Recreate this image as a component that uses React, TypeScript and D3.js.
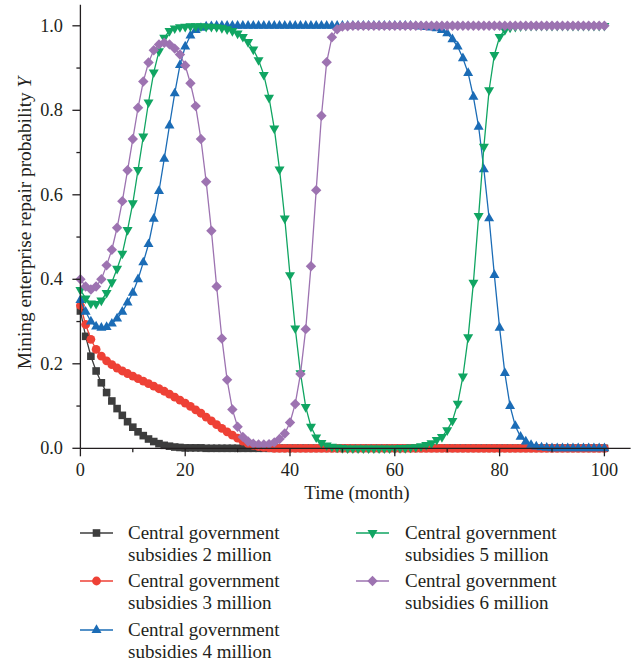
import React from 'react';
import * as d3 from 'd3';

// Time in months (0..100)
const months: number[] = d3.range(0, 101);

// Mining enterprise repair probability Y for each subsidy level
const sub2: number[] = [
  0.325, 0.265, 0.218, 0.183, 0.155, 0.132, 0.112, 0.094, 0.078, 0.063,
  0.050, 0.039, 0.030, 0.022, 0.016, 0.011, 0.007, 0.005, 0.003, 0.002,
  0.001, 0.001, 0.001, 0.001, 0, 0, 0, 0, 0, 0,
  0, 0, 0, 0, 0, 0, 0, 0, 0, 0,
  0, 0, 0, 0, 0, 0, 0, 0, 0, 0,
  0, 0, 0, 0, 0, 0, 0, 0, 0, 0,
  0, 0, 0, 0, 0, 0, 0, 0, 0, 0,
  0, 0, 0, 0, 0, 0, 0, 0, 0, 0,
  0, 0, 0, 0, 0, 0, 0, 0, 0, 0,
  0, 0, 0, 0, 0, 0, 0, 0, 0, 0,
  0,
];

const sub3: number[] = [
  0.338, 0.293, 0.258, 0.234, 0.218, 0.207, 0.198, 0.190, 0.183, 0.177,
  0.171, 0.165, 0.159, 0.153, 0.147, 0.141, 0.135, 0.128, 0.121, 0.114,
  0.107, 0.099, 0.091, 0.083, 0.074, 0.065, 0.056, 0.047, 0.039, 0.031,
  0.024, 0.017, 0.011, 0.007, 0.004, 0.002, 0.001, 0, 0, 0,
  0, 0, 0, 0, 0, 0, 0, 0, 0, 0,
  0, 0, 0, 0, 0, 0, 0, 0, 0, 0,
  0, 0, 0, 0, 0, 0, 0, 0, 0, 0,
  0, 0, 0, 0, 0, 0, 0, 0, 0, 0,
  0, 0, 0, 0, 0, 0, 0, 0, 0, 0,
  0, 0, 0, 0, 0, 0, 0, 0, 0, 0,
  0,
];

const sub4: number[] = [
  0.351, 0.323, 0.300, 0.288, 0.285, 0.287, 0.295, 0.307, 0.323, 0.345,
  0.368, 0.400, 0.440, 0.483, 0.543, 0.609, 0.685, 0.764, 0.840, 0.907,
  0.951, 0.977, 0.990, 0.995, 0.998, 0.999, 1, 1, 1, 1,
  1, 1, 1, 1, 1, 1, 1, 1, 1, 1,
  1, 1, 1, 1, 1, 1, 1, 1, 1, 1,
  1, 1, 1, 1, 1, 1, 1, 1, 1, 1,
  1, 1, 1, 1, 0.999, 0.998, 0.997, 0.996, 0.994, 0.990,
  0.982, 0.968, 0.951, 0.923, 0.888, 0.832, 0.761, 0.660, 0.544, 0.410,
  0.285, 0.178, 0.100, 0.053, 0.027, 0.016, 0.008, 0.004, 0.002, 0.001,
  0, 0, 0, 0, 0, 0, 0, 0, 0, 0,
  0,
];

const sub5: number[] = [
  0.375, 0.355, 0.343, 0.342, 0.350, 0.368, 0.393, 0.425, 0.461, 0.517,
  0.580, 0.659, 0.738, 0.819, 0.890, 0.940, 0.972, 0.988, 0.994, 0.997,
  0.998, 0.999, 0.999, 0.999, 0.998, 0.998, 0.997, 0.995, 0.992, 0.988,
  0.982, 0.974, 0.962, 0.944, 0.919, 0.884, 0.830, 0.757, 0.660, 0.544,
  0.410, 0.284, 0.178, 0.098, 0.051, 0.026, 0.013, 0.007, 0.004, 0.002,
  0.001, 0, 0, 0, 0, 0, 0, 0, 0, 0,
  0, 0.001, 0.001, 0.002, 0.003, 0.005, 0.008, 0.012, 0.020, 0.027,
  0.043, 0.065, 0.106, 0.170, 0.263, 0.392, 0.550, 0.714, 0.848, 0.931,
  0.974, 0.990, 0.996, 0.998, 0.999, 1, 1, 1, 1, 1,
  1, 1, 1, 1, 1, 1, 1, 1, 1, 1,
  1,
];

const sub6: number[] = [
  0.400, 0.383, 0.376, 0.383, 0.400, 0.433, 0.470, 0.522, 0.585, 0.658,
  0.732, 0.806, 0.868, 0.913, 0.942, 0.956, 0.960, 0.956, 0.946, 0.932,
  0.906, 0.864, 0.810, 0.732, 0.631, 0.515, 0.383, 0.260, 0.162, 0.092,
  0.051, 0.027, 0.016, 0.011, 0.009, 0.009, 0.010, 0.014, 0.022, 0.035,
  0.061, 0.105, 0.176, 0.282, 0.431, 0.611, 0.787, 0.914, 0.973, 0.992,
  0.998, 0.999, 1, 1, 1, 1, 1, 1, 1, 1,
  1, 1, 1, 1, 1, 1, 1, 1, 1, 1,
  1, 1, 1, 1, 1, 1, 1, 1, 1, 1,
  1, 1, 1, 1, 1, 1, 1, 1, 1, 1,
  1, 1, 1, 1, 1, 1, 1, 1, 1, 1,
  1,
];

const subsidyLabels: string[] = ['2', '3', '4', '5', '6'];
const xMajorTicks: number[] = [0, 20, 40, 60, 80, 100];
const xMinorTicks: number[] = [10, 30, 50, 70, 90];
const yMajorTicks: number[] = [0, 0.2, 0.4, 0.6, 0.8, 1.0];
const yMinorTicks: number[] = [0.1, 0.3, 0.5, 0.7, 0.9];

const COLORS = ['#3d3d3d', '#ee4136', '#1b6cb6', '#10a562', '#9d73b1'];
const SHAPES = ['square', 'circle', 'up', 'down', 'diamond'];

function markerPath(shape: string): string {
  switch (shape) {
    case 'square':
      return 'M-3.8,-3.8H3.8V3.8H-3.8Z';
    case 'circle':
      return d3.symbol(d3.symbolCircle, Math.PI * 4.4 * 4.4)() as string;
    case 'up': {
      const s = 10, h = s * Math.sqrt(3) / 2;
      return `M0,${-h * 2 / 3}L${s / 2},${h / 3}L${-s / 2},${h / 3}Z`;
    }
    case 'down': {
      const s = 10, h = s * Math.sqrt(3) / 2;
      return `M0,${h * 2 / 3}L${s / 2},${-h / 3}L${-s / 2},${-h / 3}Z`;
    }
    default:
      return 'M0,-5.2L5.2,0L0,5.2L-5.2,0Z';
  }
}

export default function App() {
  const W = 639, H = 663;
  const x0 = 80.4, y0 = 448.3, unitY = 422.5;
  const x = d3.scaleLinear().domain([0, 105]).range([x0, x0 + 105 * 5.24]);
  const y = d3.scaleLinear().domain([0, 1.05]).range([y0, y0 - 1.05 * unitY]);
  const allSeries = [sub2, sub3, sub4, sub5, sub6];
  const line = d3.line<number>().x((_, i) => x(months[i])).y((d) => y(d));
  const font = "'Liberation Serif', 'DejaVu Serif', serif";
  const axisColor = '#231f20';
  const fmt = d3.format('.1f');

  const legendPos = [
    { lx: 80, tx: 128, y: 533 },
    { lx: 80, tx: 128, y: 581 },
    { lx: 80, tx: 128, y: 630 },
    { lx: 356, tx: 405, y: 533 },
    { lx: 356, tx: 405, y: 581 },
  ];

  return (
    <svg width={W} height={H} style={{ position: 'absolute', left: 0, top: 0, background: '#fff' }}
      fontFamily={font}>
      <rect x={0} y={0} width={W} height={H} fill="#fff" />
      {/* series */}
      {allSeries.map((s, si) => (
        <g key={si}>
          <path d={line(s) as string} fill="none" stroke={COLORS[si]} strokeWidth={1.3} />
          {s.map((v, i) => (
            <path key={i} d={markerPath(SHAPES[si])}
              transform={`translate(${x(months[i])},${y(v)})`} fill={COLORS[si]} />
          ))}
        </g>
      ))}
      {/* axes */}
      <line x1={x(0)} x2={x(0)} y1={y(0)} y2={y(1.05)} stroke={axisColor} strokeWidth={1.3} />
      <line x1={x(0)} x2={x(105)} y1={y(0)} y2={y(0)} stroke={axisColor} strokeWidth={1.3} />
      {yMajorTicks.map((t) => (
        <g key={'ym' + t}>
          <line x1={x(0) - 8} x2={x(0)} y1={y(t)} y2={y(t)} stroke={axisColor} strokeWidth={1.3} />
          <text x={63} y={y(t) + 6} textAnchor="end" fontSize={18.3} fill="#231f20">{fmt(t)}</text>
        </g>
      ))}
      {yMinorTicks.map((t) => (
        <line key={'yn' + t} x1={x(0) - 4} x2={x(0)} y1={y(t)} y2={y(t)} stroke={axisColor} strokeWidth={1.3} />
      ))}
      {xMajorTicks.map((t) => (
        <g key={'xm' + t}>
          <line x1={x(t)} x2={x(t)} y1={y(0)} y2={y(0) + 8} stroke={axisColor} strokeWidth={1.3} />
          <text x={x(t)} y={476} textAnchor="middle" fontSize={18.3} fill="#231f20">{t}</text>
        </g>
      ))}
      {xMinorTicks.map((t) => (
        <line key={'xn' + t} x1={x(t)} x2={x(t)} y1={y(0)} y2={y(0) + 4} stroke={axisColor} strokeWidth={1.3} />
      ))}
      <text x={357} y={499} textAnchor="middle" fontSize={19} fill="#231f20">Time (month)</text>
      <text transform="translate(31,223) rotate(-90)" textAnchor="middle" fontSize={19.3} fill="#231f20">
        Mining enterprise repair probability <tspan fontStyle="italic">Y</tspan>
      </text>
      {/* legend */}
      {subsidyLabels.map((lab, i) => {
        const p = legendPos[i];
        return (
          <g key={'lg' + i}>
            <line x1={p.lx} x2={p.lx + 33} y1={p.y} y2={p.y} stroke={COLORS[i]} strokeWidth={1.3} />
            <path d={markerPath(SHAPES[i])} transform={`translate(${p.lx + 16.5},${p.y})`} fill={COLORS[i]} />
            <text x={p.tx} y={p.y + 6} fontSize={19} fill="#231f20">Central government</text>
            <text x={p.tx} y={p.y + 28} fontSize={19} fill="#231f20">{`subsidies ${lab} million`}</text>
          </g>
        );
      })}
    </svg>
  );
}
